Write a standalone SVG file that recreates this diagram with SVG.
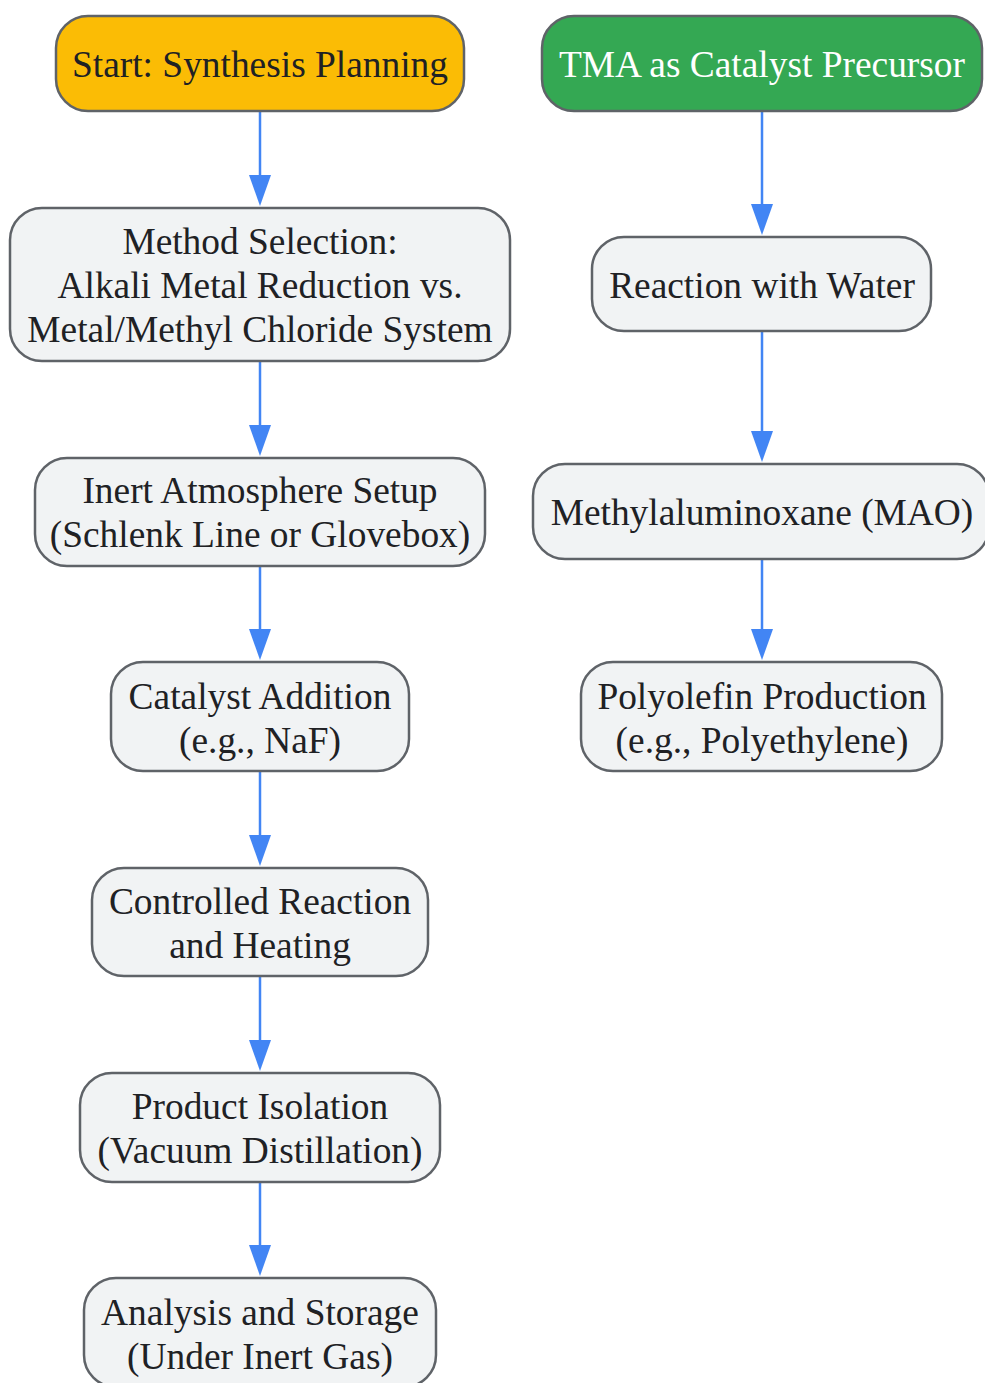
<svg xmlns="http://www.w3.org/2000/svg" width="985" height="1383" viewBox="0 0 985 1383">
<style>
.n rect{fill:#F1F3F4;stroke:#5F6368;stroke-width:2.5}
.n text{font-family:"Liberation Serif","Times New Roman",serif;font-size:37.4px;fill:#202124;text-anchor:middle}
#start rect{fill:#FBBC05}
#tma rect{fill:#34A853}
#tma text{fill:#FFFFFF}
.e line{stroke:#4285F4;stroke-width:2.5}
.e path{fill:#4285F4}
</style>
<rect width="985" height="1383" fill="#FFFFFF"/>
<g id="connectors" class="e">
<line x1="260" y1="111" x2="260" y2="178"/><path d="M249,175 L271,175 L260,206 Z"/>
<line x1="260" y1="361" x2="260" y2="428"/><path d="M249,425 L271,425 L260,456 Z"/>
<line x1="260" y1="566" x2="260" y2="632"/><path d="M249,629 L271,629 L260,660 Z"/>
<line x1="260" y1="771" x2="260" y2="838"/><path d="M249,835 L271,835 L260,866 Z"/>
<line x1="260" y1="976" x2="260" y2="1043"/><path d="M249,1040 L271,1040 L260,1071 Z"/>
<line x1="260" y1="1182" x2="260" y2="1248"/><path d="M249,1245 L271,1245 L260,1276 Z"/>
<line x1="762" y1="111" x2="762" y2="207"/><path d="M751,204 L773,204 L762,235 Z"/>
<line x1="762" y1="331" x2="762" y2="434"/><path d="M751,431 L773,431 L762,462 Z"/>
<line x1="762" y1="559" x2="762" y2="632"/><path d="M751,629 L773,629 L762,660 Z"/>
</g>
<g id="start" class="n"><rect x="56" y="16" width="408" height="95" rx="32"/><text x="260" y="77">Start: Synthesis Planning</text></g>
<g id="tma" class="n"><rect x="542" y="16" width="440" height="95" rx="32"/><text x="762" y="77">TMA as Catalyst Precursor</text></g>
<g id="method" class="n"><rect x="10" y="208" width="500" height="153" rx="32"/><text x="260" y="254">Method Selection:</text><text x="260" y="298">Alkali Metal Reduction vs.</text><text x="260" y="342">Metal/Methyl Chloride System</text></g>
<g id="water" class="n"><rect x="592" y="237" width="339" height="94" rx="32"/><text x="762" y="298">Reaction with Water</text></g>
<g id="inert" class="n"><rect x="35" y="458" width="450" height="108" rx="32"/><text x="260" y="503">Inert Atmosphere Setup</text><text x="260" y="547">(Schlenk Line or Glovebox)</text></g>
<g id="mao" class="n"><rect x="533" y="464" width="456" height="95" rx="32"/><text x="762" y="525">Methylaluminoxane (MAO)</text></g>
<g id="catalyst" class="n"><rect x="111" y="662" width="298" height="109" rx="32"/><text x="260" y="709">Catalyst Addition</text><text x="260" y="753">(e.g., NaF)</text></g>
<g id="polyolefin" class="n"><rect x="581" y="662" width="361" height="109" rx="32"/><text x="762" y="709">Polyolefin Production</text><text x="762" y="753">(e.g., Polyethylene)</text></g>
<g id="controlled" class="n"><rect x="92" y="868" width="336" height="108" rx="32"/><text x="260" y="914">Controlled Reaction</text><text x="260" y="958">and Heating</text></g>
<g id="isolation" class="n"><rect x="80" y="1073" width="360" height="109" rx="32"/><text x="260" y="1119">Product Isolation</text><text x="260" y="1163">(Vacuum Distillation)</text></g>
<g id="analysis" class="n"><rect x="84" y="1278" width="352" height="109" rx="32"/><text x="260" y="1325">Analysis and Storage</text><text x="260" y="1369">(Under Inert Gas)</text></g>
</svg>
